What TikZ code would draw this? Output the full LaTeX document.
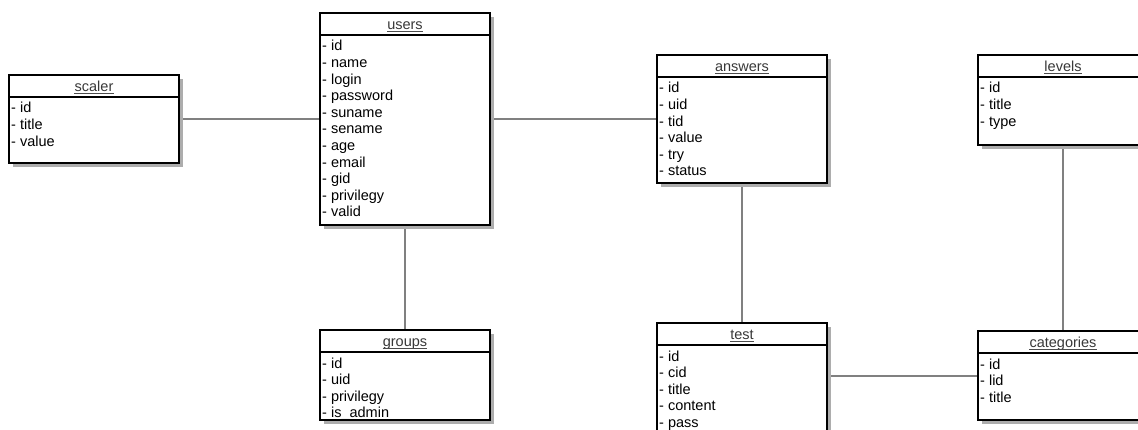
\documentclass[tikz,border=0pt]{standalone}
\usepackage{fontspec}
\setmainfont{Liberation Sans}
\pgfdeclarelayer{back}
\pgfdeclarelayer{bg}
\pgfsetlayers{back,bg,main}
\tikzset{
  tbl/.style={draw=black, line width=2pt, fill=white, minimum width=170pt, inner sep=0pt, outer sep=0pt, anchor=north west},
  shadowc/.style={fill=black!32},
  sep/.style={draw=black, line width=2pt},
  conn/.style={draw=black!50, line width=2pt},
  ttl/.style={font=\fontsize{14.5pt}{16pt}\selectfont, text=black!78, inner sep=0pt, anchor=base},
  uline/.style={draw=black!70, line width=0.9pt},
  attr/.style={font=\fontsize{14.5pt}{16pt}\selectfont, text=black, inner sep=0pt, anchor=base west},
}
\newcommand\erentity[6]{%
  \fill[shadowc] (#2+4,#3+4) rectangle (#2+174,#3+#4+4);
  \node[tbl, minimum height=#4pt] (#1) at (#2,#3) {};
  \draw[sep] ([yshift=-22pt]#1.north west) -- ([yshift=-22pt]#1.north east);
  \node[ttl] (#1-t) at ([yshift=-16.5pt]#1.north) {#5};
  \draw[uline] ([yshift=-2.3pt]#1-t.base west) -- ([yshift=-2.3pt]#1-t.base east);
  \foreach \a [count=\i, evaluate=\i as \yy using -38-(\i-1)*16.6] in {#6}
    \node[attr] (#1-\i) at ([xshift=2pt,yshift=\yy pt]#1.north west) {- \a};
}
\begin{document}
\begin{tikzpicture}[x=1pt,y=-1pt]
\useasboundingbox (0,0) rectangle (1138,430);
\begin{pgfonlayer}{back}
\fill[white] (0,0) rectangle (1138,430);
\end{pgfonlayer}
\begin{scope}
\clip (0,0) rectangle (1138,430);
\erentity{scaler}{9}{75}{88}{scaler}{id,title,value}
\erentity{users}{320}{13}{212}{users}{id,name,login,password,suname,sename,age,email,gid,privilegy,valid}
\erentity{answers}{657}{55}{128}{answers}{id,uid,tid,value,try,status}
\erentity{levels}{978}{55}{90}{levels}{id,title,type}
\erentity{groups}{320}{330}{90}{groups}{id,uid,privilegy,is\_admin}
\erentity{test}{657}{323}{125}{test}{id,cid,title,content,pass}
\erentity{categories}{978}{331}{89}{categories}{id,lid,title}
\end{scope}
\begin{pgfonlayer}{bg}
\draw[conn] (scaler) -- (users);
\draw[conn] (users) -- (answers);
\draw[conn] (users) -- (groups);
\draw[conn] (answers) -- (test);
\draw[conn] (levels) -- (categories);
\draw[conn] (categories) -- (categories -| test);
\end{pgfonlayer}
\end{tikzpicture}
\end{document}
